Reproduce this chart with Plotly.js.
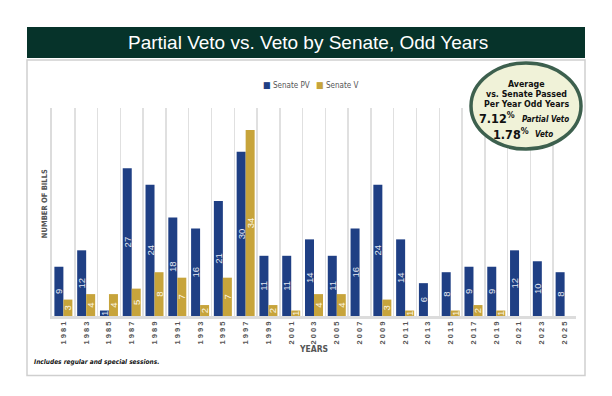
<!DOCTYPE html>
<html>
<head>
<meta charset="utf-8">
<script src="https://cdn.plot.ly/plotly-3.0.1.min.js"></script>
<style>html,body{margin:0;padding:0;background:#fff;}#chart{width:612px;height:396px;}</style>
</head>
<body>
<div id="chart"></div>
<script>
var years = [1981,1983,1985,1987,1989,1991,1993,1995,1997,1999,2001,2003,2005,2007,2009,2011,2013,2015,2017,2019,2021,2023,2025];
var senatePV = [9,12,1,27,24,18,16,21,30,11,11,14,11,16,24,14,6,8,9,9,12,10,8];
var senateV  = [3,4,4,5,8,7,2,7,34,2,1,4,4,0,3,1,0,1,2,1,0,0,0];
var seriesNames = ['Senate PV','Senate V'];
var titleText = 'Partial Veto vs. Veto by Senate, Odd Years';
var badgeLines = ['Average','vs. Senate Passed','Per Year Odd Years'];
var avgValues = ['7.12','1.78'];
var avgLabels = ['Partial Veto','Veto'];

var L = 52, R = 36, T = 108, B = 80.3, W = 612, H = 396;
var pw = W - L - R, ph = H - T - B;
function fx(px){ return (px - L) / pw; }
function fy(py){ return (H - B - py) / ph; }

var narrow = 'Liberation Sans Narrow, DejaVu Sans Condensed, Arial Narrow, sans-serif';
var colors = ['#1f3f84', '#c7a43b'];

function lbl(arr){ return arr.map(function(v){ return v > 0 ? String(v) : ''; }); }

var traces = [
  {type:'bar', name:seriesNames[0], x:years, y:senatePV, text:lbl(senatePV),
   marker:{color:colors[0]}, textposition:'inside', insidetextanchor:'middle', textangle:-90,
   textfont:{family:'Liberation Sans', size:9.5, color:'#e4e8f2'}, hoverinfo:'skip'},
  {type:'bar', name:seriesNames[1], x:years, y:senateV, text:lbl(senateV),
   marker:{color:colors[1]}, textposition:'inside', insidetextanchor:'middle', textangle:-90,
   textfont:{family:'Liberation Sans', size:9.5, color:'#fbf6e6'}, hoverinfo:'skip'}
];

var gridVals = years.map(function(y){ return y - 1; }).concat([years[years.length-1] + 1]);
var tickText = years.map(function(y){ return String(y).split('').join(' '); });

var annotations = [
  {xref:'paper', yref:'paper', x:fx(308), y:fy(43), xanchor:'center', yanchor:'middle', showarrow:false,
   text:titleText, font:{family:'Liberation Sans, Arial, sans-serif', size:19, color:'#ffffff'}},
  {xref:'paper', yref:'paper', x:fx(44), y:fy(204), xanchor:'center', yanchor:'middle', showarrow:false,
   textangle:-90, text:'<b>NUMBER OF BILLS</b>', font:{family:narrow, size:7.5, color:'#555'}},
  {xref:'paper', yref:'paper', x:fx(32), y:fy(362), xanchor:'left', yanchor:'middle', showarrow:false,
   text:'<b><i>Includes regular and special sessions.</i></b>', font:{family:narrow, size:6.5, color:'#111'}}
];
// compact legend (drawn as text with coloured squares)
var legLeft = [261, 314];
seriesNames.forEach(function(n, i){
  annotations.push({xref:'paper', yref:'paper', x:fx(legLeft[i]), y:fy(85), xanchor:'left', yanchor:'middle',
    showarrow:false, text:'<span style="color:' + colors[i] + ';font-size:9px">■</span> ' + n,
    font:{family:narrow, size:8, color:'#555'}});
});
var lineY = [84, 94, 104];
badgeLines.forEach(function(t, i){
  annotations.push({xref:'paper', yref:'paper', x:fx(526), y:fy(lineY[i]), xanchor:'center', yanchor:'middle',
    showarrow:false, text:'<b>' + t + '</b>', font:{family:narrow, size:8.8, color:'#111'}});
});
var valY = [118, 133.5], valRight = [517, 531], labLeft = [520, 533];
avgValues.forEach(function(v, i){
  annotations.push({xref:'paper', yref:'paper', x:fx(valRight[i]), y:fy(valY[i]), xanchor:'right', yanchor:'middle',
    showarrow:false, text:'<b>' + v + '<sup>%</sup></b>', font:{family:narrow, size:12.5, color:'#111'}});
  annotations.push({xref:'paper', yref:'paper', x:fx(labLeft[i]), y:fy(valY[i] + 1), xanchor:'left', yanchor:'middle',
    showarrow:false, text:'<b><i>' + avgLabels[i] + '</i></b>', font:{family:narrow, size:8, color:'#111'}});
});

var layout = {
  width: W, height: H,
  margin: {l:L, r:R, t:T, b:B},
  paper_bgcolor:'#fff', plot_bgcolor:'#fff',
  font: {family:'Liberation Sans, Arial, sans-serif', color:'#555'},
  barmode:'group', bargap:0.21, bargroupgap:0,
  showlegend:false,
  uniformtext:{mode:'show', minsize:9.5},
  xaxis:{type:'linear', range:[years[0]-1, years[years.length-1]+1],
         tickmode:'array', tickvals:years, ticktext:tickText, tickangle:-90,
         tickfont:{family:'Liberation Sans', size:7.5, color:'#555', weight:'bold'},
         ticks:'', showgrid:false, zeroline:false,
         showline:true, linecolor:'#dcdcdc', linewidth:2.5,
         minor:{tickmode:'array', tickvals:gridVals, showgrid:true, gridcolor:'#e0e0e0', gridwidth:1.5, ticks:''},
         title:{text:'<b>YEARS</b>', font:{family:narrow, size:8.5, color:'#555'}, standoff:3},
         automargin:false, fixedrange:true},
  yaxis:{range:[0,38], showticklabels:false, ticks:'', showgrid:false, zeroline:false,
         showline:true, linecolor:'#dcdcdc', linewidth:2, automargin:false, fixedrange:true},
  shapes:[
    {type:'rect', xref:'paper', yref:'paper', x0:fx(27), x1:fx(585), y0:fy(60), y1:fy(375),
     line:{color:'#cfcfcf', width:1.5}, fillcolor:'rgba(0,0,0,0)', layer:'below'},
    {type:'rect', xref:'paper', yref:'paper', x0:fx(27), x1:fx(585), y0:fy(27), y1:fy(58),
     line:{width:0}, fillcolor:'#06332a', layer:'above'},
    {type:'circle', xref:'paper', yref:'paper', x0:fx(471), x1:fx(581), y0:fy(63), y1:fy(149),
     line:{color:'#3d604e', width:3.5}, fillcolor:'#f0f2d8', layer:'above'}
  ],
  annotations: annotations
};

Plotly.newPlot('chart', traces, layout, {staticPlot:true, displayModeBar:false});
</script>
</body>
</html>
